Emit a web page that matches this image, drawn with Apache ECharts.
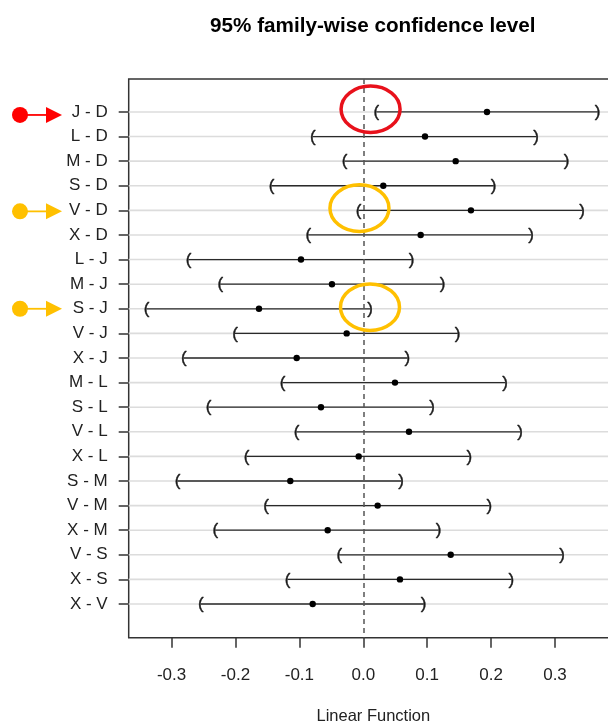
<!DOCTYPE html>
<html>
<head>
<meta charset="utf-8">
<script src="https://cdn.jsdelivr.net/npm/echarts@6/dist/echarts.min.js"></script>
<style>
html,body{margin:0;padding:0;background:#fff;}
#chart{width:608px;height:724px;}
</style>
</head>
<body>
<div id="chart"></div>
<script>
// ---- data ----
const categories = ['J - D','L - D','M - D','S - D','V - D','X - D','L - J','M - J','S - J','V - J','X - J','M - L','S - L','V - L','X - L','S - M','V - M','X - M','V - S','X - S','X - V'];
const estimates = [0.1936,0.0966,0.1446,0.0313,0.1685,0.0898,-0.0975,-0.0490,-0.1632,-0.0260,-0.1042,0.0496,-0.0662,0.0715,-0.0072,-0.1142,0.0225,-0.0557,0.1368,0.0574,-0.0792];
const lowers = [0.0205,-0.0788,-0.0292,-0.1434,-0.0073,-0.0861,-0.2733,-0.2239,-0.3390,-0.2008,-0.2807,-0.1262,-0.2420,-0.1043,-0.1825,-0.2905,-0.1523,-0.2317,-0.0376,-0.1184,-0.2541];
const uppers = [0.3668,0.2704,0.3182,0.2040,0.3423,0.2625,0.0757,0.1242,0.0106,0.1477,0.0690,0.2218,0.1076,0.2453,0.1660,0.0591,0.1973,0.1179,0.3110,0.2317,0.0945];
const xTicks = [-0.3,-0.2,-0.1,0.0,0.1,0.2,0.3];
const rowIdx = categories.map((c,i)=>i);
const titleText = '95% family-wise confidence level';
const xName = 'Linear Function';
// highlighted comparisons (annotations)
const highlightRows = ['J - D','V - D','S - J'];

// ---- styles / annotation config ----
const FONT = '"Liberation Sans", Arial, sans-serif';
const annColors = ['#FF0000','#FFC000','#FFC000'];
const ellColors = ['#E8111B','#FFC000','#FFC000'];
const ellCenterX = [0.0114,-0.006,0.0105];
const ellDy = [-0.11,-0.09,-0.065];
const arrowDy = [3,1,0];

const chart = echarts.init(document.getElementById('chart'), null, {renderer:'canvas'});

const ciData = categories.map((c,i)=>[lowers[i], estimates[i], uppers[i], i]);
const rowData = rowIdx.map(i=>[0,i]);

const option = {
  backgroundColor:'#fff',
  animation:false,
  title:{
    text:titleText, left:205, top:11,
    textStyle:{fontFamily:FONT, fontSize:20.7, fontWeight:'bold', color:'#000'}
  },
  grid:{
    left:128.7, top:79, bottom:86.3, right:-10,
    show:true, borderColor:'#333', borderWidth:1.5, backgroundColor:'transparent',
    containLabel:false, outerBoundsMode:'none'
  },
  xAxis:{
    type:'value', min:-0.3671, max:0.3986,
    axisLine:{show:false, onZero:false},
    splitLine:{show:false},
    axisTick:{show:true, customValues:xTicks, length:10, lineStyle:{color:'#333', width:1.5}},
    axisLabel:{customValues:xTicks, margin:29, formatter:v=>v.toFixed(1),
      fontFamily:FONT, fontSize:17, color:'#222'},
    name:xName, nameLocation:'middle', nameGap:70,
    nameTextStyle:{fontFamily:FONT, fontSize:16.5, color:'#222'}
  },
  yAxis:{
    type:'value', inverse:true, min:-1.34, max:21.37,
    axisLine:{show:false, onZero:false},
    splitLine:{show:false},
    axisTick:{show:true, customValues:rowIdx, length:10, lineStyle:{color:'#333', width:1.5}},
    axisLabel:{customValues:rowIdx, margin:21, formatter:v=>categories[Math.round(v)],
      padding:[5,0,0,0],
      fontFamily:FONT, fontSize:17, color:'#222'}
  },
  series:[
    {
      type:'custom', z:1, silent:true,
      data:rowData,
      renderItem:function(params, api){
        const cs = params.coordSys;
        const p = api.coord([0, api.value(1)]);
        return {type:'line', shape:{x1:cs.x, y1:p[1], x2:cs.x+cs.width, y2:p[1]},
          style:{stroke:'#dcdcdc', lineWidth:1.6}};
      },
      markLine:{
        silent:true, symbol:'none', label:{show:false},
        lineStyle:{type:[5,4], color:'#555', width:1.5},
        data:[{xAxis:0}]
      }
    },
    {
      type:'custom', z:3, silent:true,
      data:ciData,
      renderItem:function(params, api){
        const lo = api.value(0), est = api.value(1), hi = api.value(2), row = api.value(3);
        const pL = api.coord([lo,row]), pE = api.coord([est,row]), pH = api.coord([hi,row]);
        return {type:'group', children:[
          {type:'line', shape:{x1:pL[0], y1:pL[1], x2:pH[0], y2:pH[1]}, style:{stroke:'#2a2a2a', lineWidth:1.3}},
          {type:'text', x:pL[0], y:pL[1]+0.5, style:{text:'(', font:'17px '+FONT, fill:'#1a1a1a', stroke:'#1a1a1a', lineWidth:0.4, align:'center', verticalAlign:'middle'}},
          {type:'text', x:pH[0], y:pH[1]+0.5, style:{text:')', font:'17px '+FONT, fill:'#1a1a1a', stroke:'#1a1a1a', lineWidth:0.4, align:'center', verticalAlign:'middle'}},
          {type:'circle', shape:{cx:pE[0], cy:pE[1], r:3.2}, style:{fill:'#000'}}
        ]};
      }
    }
  ]
};
chart.setOption(option);

// annotations: ellipses around zero and arrows pointing at labels
const graphics = [];
highlightRows.forEach((name,k)=>{
  const row = categories.indexOf(name);
  const c = chart.convertToPixel({gridIndex:0}, [ellCenterX[k], row + ellDy[k]]);
  graphics.push({type:'ellipse', z:10, silent:true,
    shape:{cx:c[0], cy:c[1], rx:29.5, ry:23.3},
    style:{fill:'none', stroke:ellColors[k], lineWidth:3.5}});
  const y = chart.convertToPixel({gridIndex:0}, [0,row])[1] + arrowDy[k];
  graphics.push({type:'circle', z:10, silent:true, shape:{cx:20, cy:y, r:8}, style:{fill:annColors[k]}});
  graphics.push({type:'line', z:10, silent:true, shape:{x1:27, y1:y, x2:48, y2:y}, style:{stroke:annColors[k], lineWidth:1.8}});
  graphics.push({type:'polygon', z:10, silent:true, shape:{points:[[46,y-8],[62,y],[46,y+8]]}, style:{fill:annColors[k]}});
});
chart.setOption({graphic:graphics});
</script>
</body>
</html>
